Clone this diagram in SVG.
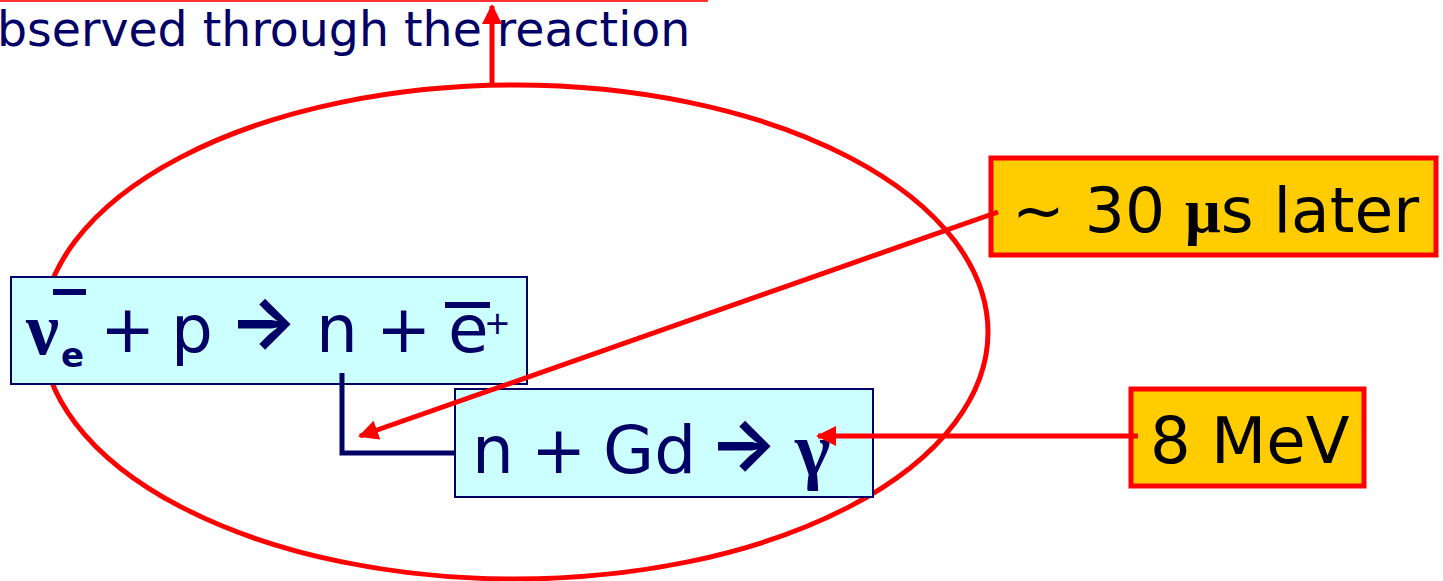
<svg xmlns="http://www.w3.org/2000/svg" width="1443" height="581" viewBox="0 0 1443 581">
<style>
.navy{fill:#000066;font-family:"DejaVu Sans",sans-serif}
.sym{fill:#000066;font-family:"Liberation Serif","DejaVu Serif",serif;font-weight:bold}
.arr{fill:#000066;font-family:Inter,"DejaVu Sans",sans-serif;font-weight:bold;font-size:72px}
.box{fill:#CCFFFF;stroke:#000066;stroke-width:2}
.lbl{fill:#FFCC00;stroke:#FF0000;stroke-width:5}
.blk{fill:#000000;font-family:"DejaVu Sans",sans-serif}
.red{stroke:#FF0000;stroke-width:5;fill:none}
</style>
<defs>
<marker id="ah" viewBox="0 0 10 10" refX="9" refY="5" markerWidth="4" markerHeight="4" orient="auto" markerUnits="strokeWidth">
<path d="M0,0 L10,5 L0,10 z" fill="#FF0000"/>
</marker>
</defs>
<g id="header">
<line x1="0" y1="1" x2="708" y2="1" stroke="#FF3333" stroke-width="2"/>
<text class="navy" x="-3" y="46" font-size="47.4">bserved through the reaction</text>
</g>
<g id="ellipse">
<ellipse cx="515" cy="332" rx="473" ry="247" class="red" stroke-width="4"/>
</g>
<g id="box1">
<rect x="11" y="277" width="516" height="107" class="box"/>
<text class="sym" x="26" y="354" font-size="74">ν</text>
<line x1="53" y1="292" x2="86" y2="292" stroke="#000066" stroke-width="6"/>
<text class="navy" x="61" y="367" font-size="34" font-weight="bold">e</text>
<text class="navy" x="100" y="352" font-size="66">+</text>
<text class="navy" x="171" y="352" font-size="66">p</text>
<text class="arr" x="229" y="347">→</text>
<text class="navy" x="316" y="352" font-size="66">n</text>
<text class="navy" x="376" y="352" font-size="66">+</text>
<text class="navy" x="448" y="352" font-size="66">e</text>
<line x1="445" y1="305" x2="490" y2="305" stroke="#000066" stroke-width="6"/>
<text class="navy" x="484" y="334" font-size="32">+</text>
</g>
<g id="box2">
<rect x="455" y="389" width="418" height="108" class="box"/>
<text class="navy" x="472" y="473" font-size="66">n</text>
<text class="navy" x="531" y="473" font-size="66">+</text>
<text class="navy" x="603" y="473" font-size="66">Gd</text>
<text class="arr" x="709" y="469">→</text>
<text class="sym" x="795" y="475" font-size="76">γ</text>
</g>
<g id="label30">
<rect x="991" y="158" width="445" height="97" class="lbl"/>
<text class="blk" x="1012" y="232" font-size="63">~ 30 <tspan font-family="Liberation Serif, serif" font-weight="bold">μ</tspan>s later</text>
</g>
<g id="label8">
<rect x="1131" y="389" width="233" height="97" class="lbl"/>
<text class="blk" x="1150" y="463" font-size="64">8 MeV</text>
</g>
<g id="connectors">
<polyline points="342,373 342,453 455,453" fill="none" stroke="#000066" stroke-width="5"/>
<line x1="492" y1="86" x2="492" y2="6" class="red" marker-end="url(#ah)"/>
<line x1="998" y1="212" x2="360" y2="436" class="red" marker-end="url(#ah)"/>
<line x1="1138" y1="436" x2="818" y2="436" class="red" marker-end="url(#ah)"/>
</g>
</svg>
